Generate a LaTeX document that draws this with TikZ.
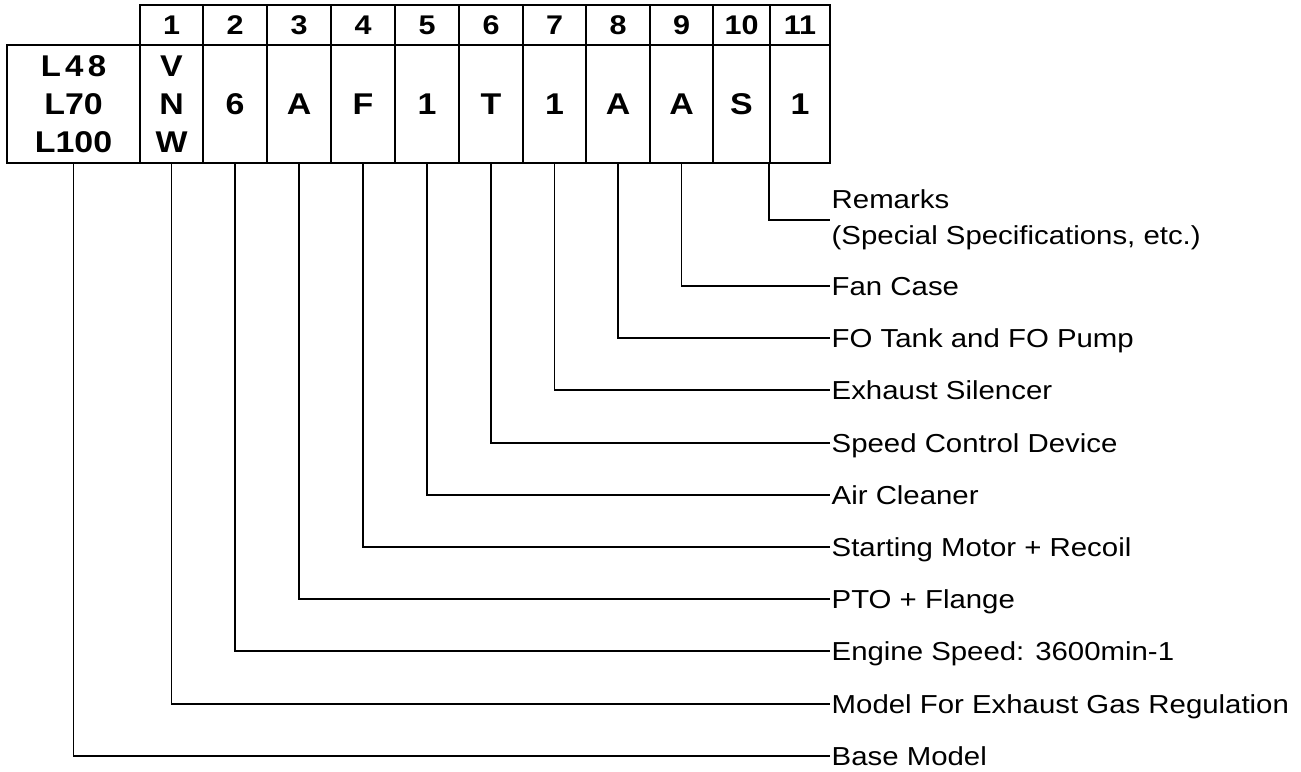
\documentclass[tikz,border=0pt]{standalone}
\usepackage{fontspec}
\setmainfont[FakeStretch=1.13]{Liberation Sans}
\newfontfamily\codefont[FakeStretch=1.1,LetterSpace=14]{Liberation Sans}

\tikzset{
  cell/.style={draw, line width=1.6pt, inner sep=0pt, minimum height=118pt,
    font=\fontsize{30}{38}\selectfont\bfseries},
  headcell/.style={cell, minimum height=40pt, font=\fontsize{27}{30}\selectfont\bfseries},
  lbl/.style={anchor=west, inner sep=1.5pt, font=\fontsize{26}{36}\selectfont},
  onelbl/.style={text height=18.6pt, text depth=0pt},
  lead/.style={line width=1.6pt},
}

\begin{document}
\begin{tikzpicture}[x=1pt, y=-1pt]
\useasboundingbox (0,0) rectangle (1301,771);

% model code table
\node[cell, minimum width=133, align=center] (c0) at (73.5,104) {\codefont L48\\L70\\L100};
\foreach \n/\xa/\xb/\val in {1/140/203/{V\\N\\W}, 2/203/267/6, 3/267/331/A, 4/331/395/F,
    5/395/459/1, 6/459/523/T, 7/523/586/1, 8/586/650/A, 9/650/713/A, 10/713/770/S, 11/770/830/1}{
  \node[headcell, minimum width=\xb-\xa] (h\n) at ({(\xa+\xb)/2},25) {\n};
  \node[cell, minimum width=\xb-\xa, align=center] (c\n) at ({(\xa+\xb)/2},104) {\val};
}

% meaning of each digit
\foreach \n/\yy/\txt in {0/756/Base Model, 1/704/Model For Exhaust Gas Regulation,
    2/651/Engine Speed: 3600min-1, 3/599/PTO + Flange, 4/547/Starting Motor + Recoil,
    5/495/Air Cleaner, 6/443/Speed Control Device, 7/390/Exhaust Silencer,
    8/338/FO Tank and FO Pump, 9/286/Fan Case}{
  \node[lbl, onelbl] (l\n) at (830,\yy) {\txt};
  \draw[lead] (c\n.south) |- (l\n.west);
}
\node[lbl, align=left] (l11) at (830,220) {Remarks\\(Special Specifications, etc.)};
\draw[lead] (c11.south west) |- (l11.west);
\end{tikzpicture}
\end{document}
